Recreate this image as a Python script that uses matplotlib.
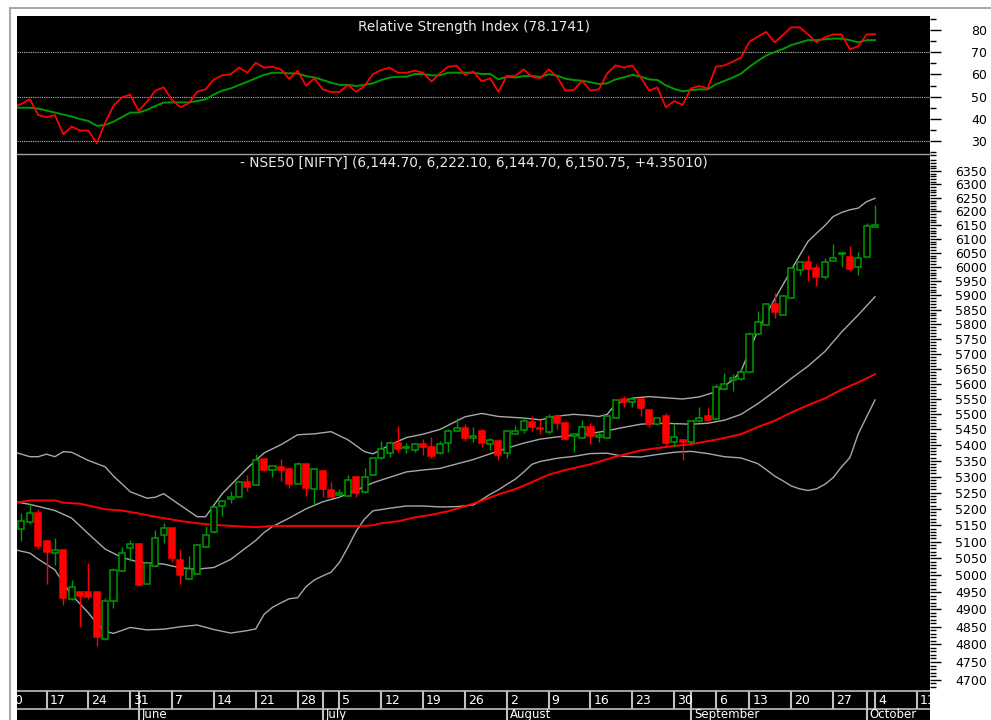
import numpy as np
import pandas as pd
import matplotlib
matplotlib.use("Agg")
import matplotlib.pyplot as plt
from matplotlib.lines import Line2D
from matplotlib.ticker import NullFormatter

# trading calendar (Sep 10 was a market holiday)
days = pd.bdate_range("2010-05-10", "2010-10-15").drop(pd.Timestamp("2010-09-10"))

# NIFTY daily candles, day index 2 (May 12) .. 104 (Oct 4)
first_candle = 2
opens = [5138, 5161, 5187, 5102, 5066, 5074, 4930, 4952, 4952, 4952,
         4815, 4923, 5013, 5080, 5094, 4974, 5026, 5120, 5141, 5046,
         4989, 5004, 5085, 5128, 5210, 5230, 5238, 5284, 5275, 5356,
         5321, 5330, 5325, 5277, 5339, 5261, 5319, 5259, 5243, 5240,
         5299, 5251, 5305, 5358, 5376, 5408, 5390, 5385, 5403, 5395,
         5374, 5406, 5446, 5454, 5424, 5446, 5404, 5414, 5374, 5436,
         5449, 5474, 5454, 5443, 5492, 5470, 5430, 5423, 5459, 5425,
         5422, 5487, 5548, 5539, 5548, 5512, 5468, 5494, 5411, 5417,
         5409, 5476, 5492, 5484, 5581, 5612, 5614, 5640, 5766, 5798,
         5870, 5832, 5890, 5989, 6017, 5997, 5965, 6021, 6045, 6035,
         5999, 6035, 6144.70]
highs = [5187, 5214, 5199, 5105, 5112, 5076, 4986, 4953, 5036, 4953,
         4934, 5021, 5085, 5105, 5095, 5037, 5136, 5156, 5142, 5078,
         5058, 5091, 5148, 5208, 5226, 5256, 5285, 5306, 5372, 5357,
         5334, 5355, 5326, 5347, 5340, 5323, 5320, 5284, 5261, 5306,
         5303, 5326, 5358, 5412, 5412, 5461, 5406, 5408, 5418, 5426,
         5414, 5451, 5487, 5468, 5459, 5451, 5424, 5415, 5447, 5465,
         5487, 5494, 5481, 5499, 5499, 5475, 5436, 5481, 5470, 5441,
         5495, 5547, 5559, 5557, 5549, 5513, 5488, 5503, 5470, 5418,
         5479, 5522, 5519, 5598, 5635, 5633, 5653, 5775, 5847, 5871,
         5908, 5900, 5996, 6018, 6043, 6011, 6033, 6081, 6052, 6076,
         6053, 6158, 6222.10]
lows = [5103, 5154, 5078, 4974, 5031, 4913, 4928, 4848, 4929, 4794,
        4812, 4903, 5012, 5043, 4967, 4973, 5025, 5095, 5040, 4974,
        4988, 5003, 5084, 5127, 5178, 5218, 5237, 5254, 5274, 5318,
        5298, 5288, 5266, 5276, 5241, 5216, 5238, 5233, 5238, 5239,
        5238, 5250, 5304, 5357, 5363, 5377, 5375, 5377, 5369, 5359,
        5373, 5377, 5445, 5414, 5411, 5393, 5385, 5353, 5359, 5435,
        5438, 5446, 5436, 5436, 5451, 5417, 5377, 5422, 5404, 5410,
        5421, 5486, 5522, 5524, 5492, 5458, 5466, 5395, 5393, 5353,
        5408, 5475, 5478, 5483, 5580, 5574, 5613, 5639, 5765, 5797,
        5821, 5831, 5889, 5971, 5951, 5934, 5957, 6020, 5999, 5987,
        5970, 6034, 6144.70]
closes = [5163, 5187, 5087, 5069, 5074, 4932, 4964, 4940, 4937, 4822,
          4923, 5016, 5067, 5094, 4972, 5036, 5112, 5141, 5051, 5001,
          5019, 5090, 5120, 5207, 5225, 5236, 5284, 5268, 5353, 5322,
          5334, 5321, 5276, 5339, 5264, 5323, 5261, 5238, 5249, 5291,
          5249, 5299, 5358, 5387, 5408, 5388, 5395, 5404, 5395, 5366,
          5403, 5446, 5454, 5422, 5430, 5406, 5417, 5369, 5446, 5446,
          5476, 5458, 5451, 5489, 5472, 5420, 5434, 5459, 5430, 5432,
          5494, 5546, 5539, 5548, 5519, 5468, 5487, 5406, 5427, 5409,
          5478, 5487, 5481, 5587, 5599, 5618, 5640, 5767, 5807, 5870,
          5841, 5899, 5995, 6017, 5993, 5965, 6017, 6033, 6051, 5993,
          6031, 6146, 6150.75]

# Bollinger bands (gray) and moving average (red), read at selected days
upper_idx = [1, 3, 4, 5, 6, 7, 8, 10, 12, 13, 15, 17, 18, 19, 21, 23, 24, 26, 29,
             31, 33, 35, 37, 39, 41, 43, 44, 46, 48, 50, 52, 55, 57, 59, 62, 64,
             66, 68, 70, 71, 72, 73, 75, 77, 79, 81, 83, 85, 87, 88, 89, 90, 91,
             92, 93, 94, 95, 96, 97, 98, 99, 100, 101, 102, 103, 104]
bb_upper = [5379, 5363, 5363, 5371, 5363, 5379, 5377, 5351, 5331, 5302, 5253,
            5233, 5236, 5247, 5211, 5176, 5176, 5247, 5327, 5375, 5401, 5433,
            5436, 5443, 5417, 5379, 5372, 5400, 5424, 5435, 5450, 5491, 5502,
            5492, 5487, 5481, 5493, 5499, 5495, 5492, 5499, 5532, 5552, 5557,
            5553, 5549, 5556, 5573, 5612, 5642, 5710, 5779, 5834, 5886, 5937,
            5989, 6041, 6091, 6120, 6148, 6181, 6196, 6206, 6212, 6236, 6248]

mid_idx = [1, 3, 6, 8, 10, 12, 14, 16, 19, 21, 23, 25, 27, 28, 30, 31, 32, 34,
           36, 38, 40, 42, 44, 46, 48, 50, 52, 54, 56, 58, 60, 62, 64, 66, 68,
           70, 72, 74, 76, 78, 80, 82, 84, 86, 88, 90, 92, 94, 96, 98, 100, 102,
           104]
bb_mid = [5223, 5214, 5195, 5172, 5124, 5078, 5053, 5039, 5033, 5022, 5018,
          5023, 5047, 5066, 5104, 5128, 5146, 5172, 5200, 5222, 5236, 5258,
          5281, 5298, 5315, 5321, 5326, 5340, 5354, 5372, 5390, 5406, 5419,
          5426, 5432, 5437, 5446, 5457, 5467, 5470, 5469, 5467, 5470, 5480,
          5499, 5534, 5574, 5617, 5658, 5707, 5773, 5832, 5895]

lower_idx = [1, 3, 4, 6, 7, 8, 10, 11, 12, 13, 15, 17, 19, 21, 23, 25, 27, 29,
             30, 31, 32, 33, 34, 35, 36, 37, 38, 39, 40, 41, 42, 43, 44, 46, 48,
             50, 52, 54, 56, 58, 59, 60, 61, 62, 63, 64, 66, 68, 70, 72, 74, 76,
             78, 80, 82, 84, 86, 88, 90, 91, 92, 93, 94, 95, 96, 97, 98, 99,
             100, 101, 102, 103, 104]
bb_lower = [5077, 5066, 5048, 5016, 4977, 4942, 4890, 4860, 4837, 4831, 4848,
            4841, 4843, 4850, 4855, 4842, 4832, 4839, 4844, 4886, 4906, 4919,
            4931, 4934, 4966, 4986, 4998, 5009, 5038, 5083, 5132, 5169, 5194,
            5202, 5209, 5209, 5206, 5207, 5212, 5245, 5259, 5276, 5292, 5314,
            5339, 5348, 5358, 5364, 5373, 5374, 5364, 5362, 5370, 5377, 5380,
            5373, 5363, 5359, 5341, 5322, 5302, 5287, 5271, 5262, 5257, 5262,
            5276, 5297, 5331, 5360, 5436, 5491, 5546]

sma_idx = [1, 3, 6, 7, 9, 12, 14, 16, 18, 21, 23, 25, 27, 30, 32, 43, 44, 45,
           47, 49, 51, 53, 55, 57, 59, 61, 63, 65, 67, 70, 73, 76, 79, 82, 85,
           88, 90, 92, 94, 96, 98, 100, 102, 104]
sma = [5217, 5226, 5226, 5219, 5216, 5199, 5195, 5186, 5176, 5163, 5156, 5151,
       5148, 5144, 5148, 5148, 5150, 5156, 5162, 5174, 5182, 5193, 5208, 5225,
       5245, 5261, 5283, 5306, 5321, 5339, 5363, 5383, 5394, 5403, 5417, 5435,
       5458, 5478, 5505, 5529, 5551, 5580, 5604, 5631]

# RSI and its signal line, day index 1 .. 104
rsi_start = 1
rsi = [45.2, 46.7, 48.8, 41.7, 40.7, 41.7, 33.0, 36.5, 34.7, 34.7,
       28.9, 38.3, 45.8, 49.7, 50.9, 43.5, 47.7, 52.7, 54.2, 48.5,
       45.2, 47.0, 52.2, 53.3, 57.8, 59.6, 60.1, 63.1, 60.8, 65.3,
       63.1, 63.5, 62.3, 58.0, 61.7, 55.0, 58.3, 53.3, 52.1, 52.1,
       55.3, 52.2, 54.8, 60.2, 62.0, 63.1, 60.8, 60.8, 61.7, 60.8,
       56.8, 60.5, 63.5, 64.0, 59.8, 61.3, 56.9, 58.3, 52.2, 59.3,
       59.3, 62.3, 59.0, 58.3, 62.3, 59.0, 52.7, 53.0, 57.1, 52.7,
       53.3, 60.5, 64.1, 63.1, 64.1, 58.7, 52.7, 54.2, 45.2, 48.0,
       46.2, 53.7, 54.8, 53.7, 63.5, 64.1, 65.8, 67.7, 74.8, 77.1,
       79.2, 74.5, 77.8, 81.3, 81.3, 78.1, 74.5, 76.7, 78.1, 78.1,
       71.3, 72.8, 78.1, 78.17]
rsi_signal = [45.0, 45.0, 45.0, 44.6, 43.7, 42.8, 41.9, 41.0, 39.9, 39.0,
              36.8, 37.2, 38.7, 40.7, 42.8, 42.8, 44.0, 45.8, 47.3, 47.4,
              47.4, 47.4, 48.0, 48.8, 51.0, 52.7, 53.7, 55.2, 56.7, 58.3,
              59.8, 60.8, 60.8, 60.5, 60.5, 59.3, 58.7, 57.5, 56.3, 55.3,
              55.3, 54.8, 55.3, 56.0, 57.5, 58.6, 59.0, 59.0, 60.2, 60.2,
              59.6, 59.6, 60.8, 60.8, 60.8, 60.8, 60.2, 60.2, 57.8, 59.0,
              58.6, 59.3, 59.3, 58.9, 60.1, 59.5, 58.1, 57.5, 57.2, 56.5,
              55.7, 56.0, 57.8, 58.7, 59.8, 59.0, 57.8, 57.5, 55.1, 53.5,
              52.4, 52.9, 53.3, 53.3, 55.6, 57.1, 58.6, 60.4, 63.5, 66.1,
              68.6, 70.1, 71.5, 73.3, 74.4, 75.5, 75.5, 75.9, 76.2, 76.2,
              75.5, 74.5, 75.5, 75.5]

rsi_title = "Relative Strength Index (78.1741)"
price_title = "- NSE50 [NIFTY] (6,144.70, 6,222.10, 6,144.70, 6,150.75, +4.35010)"

GREEN = "#009a00"
RED = "#ff0000"
GRAY = "#a8a8a8"
W, H = 991, 720
XLIM = (1.47, 110.57)

fig = plt.figure(figsize=(W / 100, H / 100), dpi=100)
fig.patch.set_facecolor("white")


def px_axes(x0, y0, x1, y1):
    # pixel box (top-left origin) -> figure axes
    ax = fig.add_axes([x0 / W, 1 - y1 / H, (x1 - x0) / W, (y1 - y0) / H])
    ax.set_facecolor("black")
    for s in ax.spines.values():
        s.set_visible(False)
    ax.set_xlim(*XLIM)
    ax.set_xticks([])
    return ax


ax_rsi = px_axes(17, 16, 930, 154)
ax_px = px_axes(17, 154, 930, 690)
ax_dt = px_axes(17, 690, 930, 720)


def right_axis(ax, major, minor, labels):
    ax.yaxis.tick_right()
    ax.set_yticks(major, labels)
    ax.set_yticks(minor, minor=True)
    ax.yaxis.set_minor_formatter(NullFormatter())
    ax.tick_params(axis="y", which="major", length=8, width=1, color="black",
                   labelsize=9, labelcolor="black", pad=33)
    ax.tick_params(axis="y", which="minor", length=4, width=1, color="black")
    for lbl in ax.get_yticklabels():
        lbl.set_horizontalalignment("right")


# --- RSI panel ---
rx = np.arange(rsi_start, rsi_start + len(rsi))
ax_rsi.plot(rx, rsi_signal, color=GREEN, lw=1.4, zorder=3)
ax_rsi.plot(rx, rsi, color=RED, lw=1.3, zorder=4)
for lvl in (70, 50, 30):
    ax_rsi.axhline(lvl, color="#b8b8b8", lw=0.8, ls=(0, (1, 1)), zorder=1)
ax_rsi.set_ylim(24.1, 86.4)
rsi_major = [30, 40, 50, 60, 70, 80]
right_axis(ax_rsi, rsi_major, [25, 35, 45, 55, 65, 75, 85], [str(v) for v in rsi_major])

# --- price panel ---
ax_px.set_yscale("log")
ax_px.set_ylim(4672, 6414)
cx = np.arange(first_candle, first_candle + len(closes))
o, h, l, c = map(np.array, (opens, highs, lows, closes))
up = c >= o
wick_cols = np.where(up, GREEN, RED)
ax_px.vlines(cx, l, h, colors=wick_cols, lw=1.0, zorder=2)
body_lo = np.minimum(o, c)
body_h = np.maximum(np.abs(c - o), 0.5)
ax_px.bar(cx[up], body_h[up], bottom=body_lo[up], width=0.72,
          facecolor="black", edgecolor=GREEN, lw=1.1, zorder=3)
ax_px.bar(cx[~up], body_h[~up], bottom=body_lo[~up], width=0.72,
          facecolor=RED, edgecolor=RED, lw=1.1, zorder=3)

ax_px.plot(upper_idx, bb_upper, color=GRAY, lw=1.0, zorder=1)
ax_px.plot(mid_idx, bb_mid, color=GRAY, lw=1.0, zorder=1)
ax_px.plot(lower_idx, bb_lower, color=GRAY, lw=1.0, zorder=1)
ax_px.plot(sma_idx, sma, color=RED, lw=1.4, zorder=1)

px_major = list(range(4700, 6351, 50))
px_minor = [v for v in range(4680, 6411, 10) if v % 50]
right_axis(ax_px, px_major, px_minor, [str(v) for v in px_major])

# --- date strip: Monday ticks with day numbers, month starts below ---
ax_dt.set_ylim(0, 30)
ax_dt.set_yticks([])
ax_dt.axhline(29, color="#c0c0c0", lw=1.2)
ax_dt.axhline(11, color="#c0c0c0", lw=1.2)
month_start = [i for i in range(1, len(days)) if days[i].month != days[i - 1].month]
for i, d in enumerate(days):
    if d.weekday() == 0 or i in month_start:
        ax_dt.vlines(i, 11, 29, color="#c0c0c0", lw=1.5)
    if d.weekday() == 0:
        ax_dt.text(i + 0.35, 20, str(d.day), color="white", fontsize=9,
                   ha="left", va="center", clip_on=True)
for i in month_start:
    ax_dt.vlines(i, 0, 11, color="#c0c0c0", lw=1.5)
    ax_dt.text(i + 0.35, 2.0, days[i].strftime("%B"), color="white", fontsize=8.5,
               ha="left", va="baseline", clip_on=True)

# titles and frame
fig.text(474 / W, 1 - 27 / H, rsi_title, color="#e8e8e8", fontsize=9.8,
         ha="center", va="center")
fig.text(474 / W, 1 - 163 / H, price_title, color="#e8e8e8", fontsize=9.8,
         ha="center", va="center")
fig.add_artist(Line2D([17 / W, 930 / W], [1 - 154 / H] * 2, color="#a0a0a0", lw=1.0))
fig.add_artist(Line2D([10 / W, 10 / W], [0, 1 - 8 / H], color="#a8a8a8", lw=1.5))
fig.add_artist(Line2D([10 / W, 1], [1 - 8 / H] * 2, color="#a8a8a8", lw=1.5))

fig.savefig("out.png", dpi=100, facecolor="white")
